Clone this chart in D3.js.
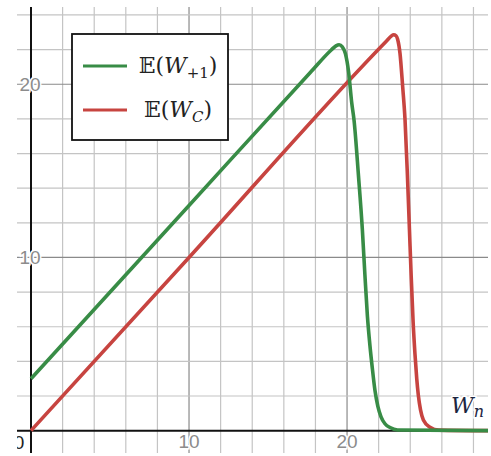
<!DOCTYPE html>
<html>
<head>
<meta charset="utf-8">
<script src="https://cdn.jsdelivr.net/npm/d3@7"></script>
<style>
  body { margin: 0; background: #fff; }
  svg { display: block; }
</style>
</head>
<body>
<div id="graph"></div>
<script>
// values
var greenWn = [0, 10, 17.66, 19.0, 19.3, 19.5, 19.7, 19.9, 20.1, 20.3, 20.44, 20.72, 20.97, 21.13, 21.29, 21.45, 21.6, 21.77, 21.95, 22.15, 22.4, 22.72, 23.2, 29];
var greenVal = [3, 13, 20.66, 21.98, 22.22, 22.28, 22.16, 21.75, 20.7, 18.9, 17.94, 14.76, 11.59, 9.0, 6.6, 4.9, 3.6, 2.3, 1.4, 0.8, 0.4, 0.18, 0.04, 0];
var redWn = [0, 10, 22.5, 22.8, 22.95, 23.1, 23.2, 23.35, 23.52, 23.67, 23.82, 23.95, 24.06, 24.18, 24.3, 24.41, 24.51, 24.65, 24.83, 25.25, 25.8, 29];
var redVal = [0, 10, 22.5, 22.78, 22.86, 22.8, 22.6, 21.79, 19.86, 17.94, 14.76, 11.59, 8.9, 6.3, 4.4, 3.0, 2.05, 1.2, 0.62, 0.2, 0.03, 0];
var xTicks = [10, 20];
var yTicks = [10, 20];
var legendNames = ["W", "W"];
var legendSubs = ["+1", "C"];

var width = 491, height = 456;
var box = {left: 17, right: 488, top: 7, bottom: 453};

var svg = d3.select("#graph")
  .append("svg")
  .attr("width", width)
  .attr("height", height);

var x = d3.scaleLinear()
  .domain([-0.886, 28.92])
  .range([box.left, box.right]);

var y = d3.scaleLinear()
  .domain([-1.29, 24.46])
  .range([box.bottom, box.top]);

svg.append("clipPath").attr("id", "clip")
  .append("rect")
  .attr("x", box.left).attr("y", box.top)
  .attr("width", box.right - box.left).attr("height", box.bottom - box.top);

var g = svg.append("g").attr("clip-path", "url(#clip)");

// grid, minor every 2, major every 10
var xGrid = d3.range(2, 30, 2);
var yGrid = d3.range(2, 26, 2);

g.selectAll(".vgrid")
  .data(xGrid)
  .enter().append("line")
  .attr("x1", function(d){ return x(d) }).attr("x2", function(d){ return x(d) })
  .attr("y1", box.top).attr("y2", box.bottom)
  .style("stroke", function(d){ return d % 10 == 0 ? "#8a8a8a" : "#c4c4c4" })
  .style("stroke-width", 1.2);

g.selectAll(".hgrid")
  .data(yGrid)
  .enter().append("line")
  .attr("y1", function(d){ return y(d) }).attr("y2", function(d){ return y(d) })
  .attr("x1", box.left).attr("x2", box.right)
  .style("stroke", function(d){ return d % 10 == 0 ? "#8a8a8a" : "#c4c4c4" })
  .style("stroke-width", 1.2);

// axes
g.append("line")
  .attr("x1", x(0)).attr("x2", x(0))
  .attr("y1", box.top).attr("y2", box.bottom)
  .style("stroke", "#111").style("stroke-width", 2);
g.append("line")
  .attr("y1", y(0)).attr("y2", y(0))
  .attr("x1", box.left).attr("x2", box.right)
  .style("stroke", "#111").style("stroke-width", 2);

// tick labels
function label(sel) {
  sel.style("font-family", "'Liberation Sans', Arial, sans-serif")
    .style("font-size", "19px")
    .style("fill", "#8c8c8c")
    .style("stroke", "#fff")
    .style("stroke-width", 3)
    .style("paint-order", "stroke")
    .attr("text-anchor", "middle");
}

g.selectAll(".xlab")
  .data(xTicks)
  .enter().append("text")
  .attr("x", function(d){ return x(d) })
  .attr("y", y(0) + 17)
  .text(function(d){ return d })
  .call(label);

g.append("text")
  .attr("x", x(0) - 12)
  .attr("y", y(0) + 18)
  .text("0")
  .call(label)
  .style("fill", "#222");

g.selectAll(".ylab")
  .data(yTicks)
  .enter().append("text")
  .attr("x", x(0) - 1)
  .attr("y", function(d){ return y(d) + 7 })
  .text(function(d){ return d })
  .call(label);

// curves
var line = d3.line()
  .x(function(d){ return x(d[0]) })
  .y(function(d){ return y(d[1]) })
  .curve(d3.curveMonotoneX);

var redPts = d3.zip(redWn, redVal);
var greenPts = d3.zip(greenWn, greenVal);

g.append("path")
  .datum(redPts)
  .attr("d", line)
  .style("fill", "none")
  .style("stroke", "#c74440")
  .style("stroke-width", 3.6)
  .style("stroke-linejoin", "round");

g.append("path")
  .datum(greenPts)
  .attr("d", line)
  .style("fill", "none")
  .style("stroke", "#388c46")
  .style("stroke-width", 3.6)
  .style("stroke-linejoin", "round");

// W_n axis label
var wn = g.append("text")
  .attr("x", 451)
  .attr("y", 413)
  .style("font-family", "'DejaVu Serif', 'Liberation Serif', serif")
  .style("font-style", "italic")
  .style("font-size", "22px")
  .style("fill", "#1c2541")
  .style("stroke", "#fff")
  .style("stroke-width", 3)
  .style("paint-order", "stroke");
wn.append("tspan").text("W");
wn.append("tspan").attr("dy", 4).style("font-size", "16px").text("n");

// legend
var leg = svg.append("g");
leg.append("rect")
  .attr("x", 72).attr("y", 34)
  .attr("width", 156).attr("height", 106)
  .style("fill", "#fff")
  .style("stroke", "#111")
  .style("stroke-width", 1.8);

var colors = ["#388c46", "#c74440"];
var rowY = [66, 110];

leg.selectAll(".lline")
  .data(legendNames)
  .enter().append("line")
  .attr("x1", 83).attr("x2", 127)
  .attr("y1", function(d, i){ return rowY[i] })
  .attr("y2", function(d, i){ return rowY[i] })
  .style("stroke", function(d, i){ return colors[i] })
  .style("stroke-width", 3);

legendNames.forEach(function(n, i) {
  var t = leg.append("text")
    .attr("x", 178)
    .attr("y", rowY[i] + 7)
    .attr("text-anchor", "middle")
    .style("font-family", "'DejaVu Serif', 'Liberation Serif', serif")
    .style("font-size", "22px")
    .style("fill", "#222");
  t.append("tspan").text("\uD835\uDD3C(");
  t.append("tspan").style("font-style", "italic").text(n);
  t.append("tspan").attr("dy", 5).style("font-size", "15px")
    .style("font-style", legendSubs[i] == "C" ? "italic" : "normal").text(legendSubs[i]);
  t.append("tspan").attr("dy", -5).text(")");
});
</script>
</body>
</html>
